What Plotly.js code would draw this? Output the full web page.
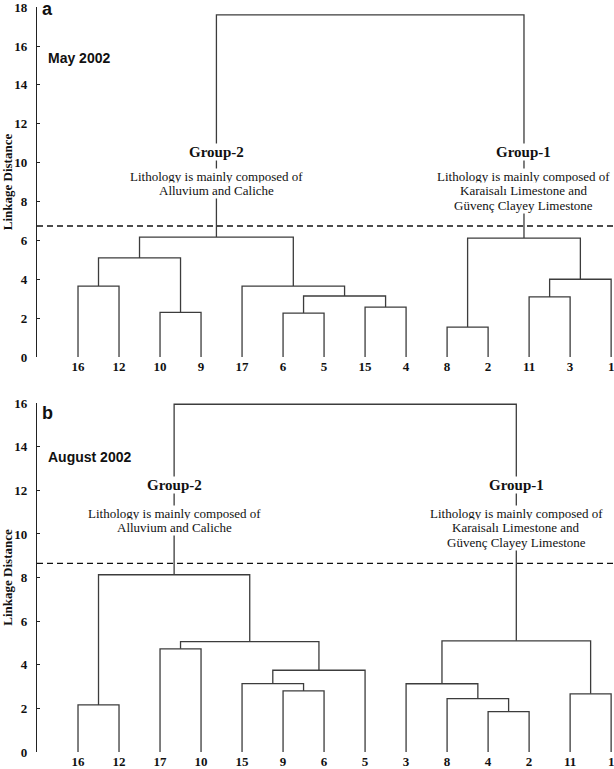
<!DOCTYPE html>
<html>
<head>
<meta charset="utf-8">
<script src="https://cdn.plot.ly/plotly-3.0.1.min.js"></script>
<style>html,body{margin:0;padding:0;background:#fff;}#chart{width:614px;height:769px;}</style>
</head>
<body>
<div id="chart"></div>
<script>
// ---- Panel a: May 2002 ----
const leavesA = ['16','12','10','9','17','6','5','15','4','8','2','11','3','1'];
// linkage: indices < 14 are leaves (by order), >= 14 are earlier clusters
const linkA_left   = [0, 2, 5, 7, 16, 4, 14, 20, 9, 11, 23, 22, 21];
const linkA_right  = [1, 3, 6, 8, 17, 18, 15, 19, 10, 12, 13, 24, 25];
const linkA_height = [3.65, 2.30, 2.26, 2.57, 3.14, 3.65, 5.10, 6.17, 1.54, 3.09, 4.00, 6.12, 17.6];
const cutA = 6.74;
const yTicksA = [0, 2, 4, 6, 8, 10, 12, 14, 16, 18];

// ---- Panel b: August 2002 ----
const leavesB = ['16','12','17','10','15','9','6','5','3','8','4','2','11','1'];
const linkB_left   = [0, 2, 5, 4, 17, 15, 14, 10, 9, 8, 12, 23, 20];
const linkB_right  = [1, 3, 6, 16, 7, 18, 19, 11, 21, 22, 13, 24, 25];
const linkB_height = [2.16, 4.73, 2.80, 3.14, 3.75, 5.06, 8.13, 1.85, 2.45, 3.13, 2.67, 5.10, 15.95];
const cutB = 8.65;
const yTicksB = [0, 2, 4, 6, 8, 10, 12, 14, 16];

const groupTitles = ['Group-2', 'Group-1'];
const groupLines = [
  ['Lithology is mainly composed of', 'Alluvium and Caliche'],
  ['Lithology is mainly composed of', 'Karaisalı Limestone and', 'Güvenç Clayey Limestone']
];
const panelLetters = ['a', 'b'];
const panelDates = ['May 2002', 'August 2002'];

function dendro(leaves, L, R, H) {
  const n = leaves.length;
  const pos = [];
  for (let i = 0; i < n; i++) pos.push({x: i + 1, y: 0});
  const xs = [], ys = [];
  for (let k = 0; k < L.length; k++) {
    const a = pos[L[k]], b = pos[R[k]], h = H[k];
    xs.push(a.x, a.x, b.x, b.x, null);
    ys.push(a.y, h, h, b.y, null);
    pos.push({x: (a.x + b.x) / 2, y: h});
  }
  const last = L.length - 1;
  return {xs, ys, left: pos[L[last]], right: pos[R[last]]};
}

const dA = dendro(leavesA, linkA_left, linkA_right, linkA_height);
const dB = dendro(leavesB, linkB_left, linkB_right, linkB_height);

const XMAX = 14.07;
const lineCol = '#3c3c3c';
const traces = [
  {x: dA.xs, y: dA.ys, xaxis: 'x', yaxis: 'y', mode: 'lines', line: {color: lineCol, width: 1.3}, hoverinfo: 'skip'},
  {x: [0, XMAX], y: [cutA, cutA], xaxis: 'x', yaxis: 'y', mode: 'lines', line: {color: '#111', width: 1.4, dash: '6px,4px'}, hoverinfo: 'skip'},
  {x: dB.xs, y: dB.ys, xaxis: 'x2', yaxis: 'y2', mode: 'lines', line: {color: lineCol, width: 1.3}, hoverinfo: 'skip'},
  {x: [0, XMAX], y: [cutB, cutB], xaxis: 'x2', yaxis: 'y2', mode: 'lines', line: {color: '#111', width: 1.4, dash: '6px,4px'}, hoverinfo: 'skip'}
];

const serif = 'Liberation Serif, Times New Roman, serif';
const sans = 'Liberation Sans, Arial, sans-serif';
const tickFont = {family: serif, size: 13, color: '#111', weight: 'bold'};

function xax(leaves, anchor) {
  return {range: [0, XMAX], tickmode: 'array', tickvals: leaves.map((_, i) => i + 1), ticktext: leaves,
    showline: false, showgrid: false, zeroline: false, ticks: '', tickfont: tickFont, anchor: anchor,
    ticklabelstandoff: 0, ticklabeloverflow: 'allow', fixedrange: true};
}
function yax(max, ticks, domain, anchor) {
  return {range: [0, max * 1.0005], tickmode: 'array', tickvals: ticks, domain: domain, anchor: anchor,
    showline: true, linecolor: '#222', linewidth: 1.2,
    ticks: 'inside', ticklen: 3, tickcolor: '#222', showgrid: false, zeroline: false, tickfont: tickFont,
    ticklabelstandoff: 6, ticklabeloverflow: 'allow',
    title: {text: 'Linkage Distance', font: {family: serif, size: 13, color: '#111', weight: 'bold'}, standoff: 4}};
}

const ann = [];
function panelAnn(xr, yr, d, letterY, dateY, gTitleY, gTextY, idx) {
  ann.push({xref: xr + ' domain', yref: yr + ' domain', x: 0.006, y: letterY, xanchor: 'left', yanchor: 'middle',
    text: panelLetters[idx], showarrow: false, font: {family: sans, size: 18, color: '#111', weight: 'bold'}});
  ann.push({xref: xr + ' domain', yref: yr + ' domain', x: 0.016, y: dateY, xanchor: 'left', yanchor: 'middle',
    text: panelDates[idx], showarrow: false, font: {family: sans, size: 14, color: '#111', weight: 'bold'}});
  const nodes = [d.left, d.right];
  for (let g = 0; g < 2; g++) {
    ann.push({xref: xr, yref: yr, x: nodes[g].x, y: gTitleY, xanchor: 'center', yanchor: 'middle',
      text: groupTitles[g], showarrow: false, bgcolor: '#fff', borderpad: 0,
      font: {family: serif, size: 15, color: '#111', weight: 'bold'}});
    groupLines[g].forEach((t, j) => {
      ann.push({xref: xr, yref: yr, x: nodes[g].x, y: gTextY, yshift: -14.7 * j, xanchor: 'center', yanchor: 'middle',
        text: t, showarrow: false, bgcolor: '#fff', borderpad: 0,
        font: {family: serif, size: 13, color: '#111'}});
    });
  }
}
panelAnn('x', 'y', dA, 0.994, 0.854, 10.55, 9.31, 0);
panelAnn('x2', 'y2', dB, 0.971, 0.845, 12.23, 10.95, 1);

const layout = {
  width: 614, height: 769,
  margin: {l: 37, r: 0, t: 7, b: 17},
  paper_bgcolor: '#fff', plot_bgcolor: '#fff',
  showlegend: false,
  xaxis: xax(leavesA, 'y'),
  yaxis: yax(18, yTicksA, [0.5302, 1], 'x'),
  xaxis2: xax(leavesB, 'y2'),
  yaxis2: yax(16, yTicksB, [0, 0.4685], 'x2'),
  annotations: ann
};

Plotly.newPlot('chart', traces, layout, {displayModeBar: false, staticPlot: true});
</script>
</body>
</html>
